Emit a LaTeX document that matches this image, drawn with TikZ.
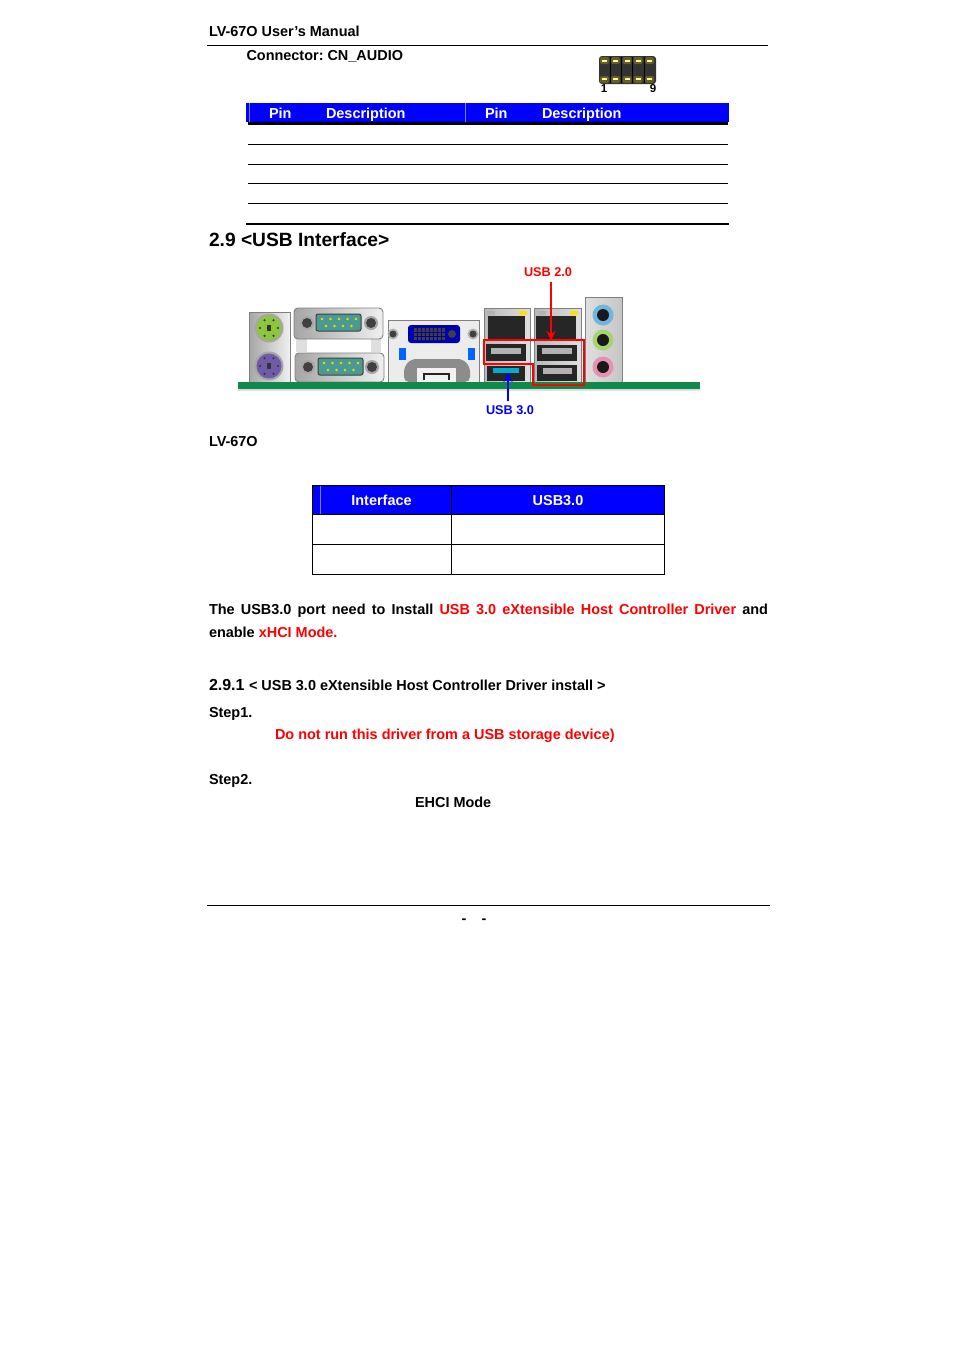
\documentclass[tikz,border=0pt]{standalone}
\usepackage{fontspec}
\setmainfont{Liberation Sans}
\usetikzlibrary{arrows.meta}
\AtBeginDocument{\frenchspacing}
\definecolor{pureblue}{HTML}{0000FF}
\definecolor{purered}{HTML}{FF0000}
\definecolor{lightrule}{HTML}{8080FF}
\definecolor{boardgreen}{HTML}{0F8A4A}
\definecolor{portteal}{HTML}{4A9A90}
\definecolor{kbgreen}{HTML}{8CC63F}
\definecolor{mousepurple}{HTML}{6F5BA8}
\definecolor{jackblue}{HTML}{6FB5DF}
\definecolor{jackgreen}{HTML}{A8D46F}
\definecolor{jackpink}{HTML}{E88FB4}
\begin{document}
\begin{tikzpicture}[x=1pt, y=-1pt,
  every node/.style={font={\fontsize{14.45}{16}\selectfont\bfseries}, inner sep=0, outer sep=0, anchor=base west},
  rule/.style={draw=black, line width=1pt},
  heavyrule/.style={draw=black, line width=2.6pt},
  panel/.style={draw=gray, line width=.9pt, left color=gray!70, right color=gray!12},
  jack/.style={fill=black!85},
  slot/.style={fill=gray!60},
  redword/.style={text=purered},
  whiteword/.style={text=white, anchor=base},
  tinylabel/.style={font={\fontsize{12.7}{14}\selectfont\bfseries}, anchor=center, outer sep=5pt}]
\useasboundingbox (0,0) rectangle (954,1350);
% page head
\node (manual) at (209,36) {LV-67O User's Manual};
\draw[rule] (207,45.5) -- (768,45.5);
\node (connector) at (246.5,60) {Connector: CN\_AUDIO};
% pin header
\fill[black!80, rounded corners=3pt] (599,56) rectangle (656,84);
\foreach \x in {604.5,615.5,627,638,649.5} {
  \fill[olive!60!black, rounded corners=2pt] (\x-4.5,57) rectangle (\x+4.5,64);
  \fill[olive!60!black, rounded corners=2pt] (\x-4.5,76) rectangle (\x+4.5,83);
  \fill[yellow!45!white] (\x-2.5,59.5) rectangle (\x+2.5,61.5);
  \fill[yellow!45!white] (\x-2.5,78) rectangle (\x+2.5,80);
}
\foreach \x in {610,621.5,632.5,644}
  \draw[black, line width=.6pt] (\x,57) -- (\x,83);
\node[font={\fontsize{11.5}{13}\selectfont\bfseries}, anchor=center] (pinone) at (604,89) {1};
\node[font={\fontsize{11.5}{13}\selectfont\bfseries}, anchor=center] (pinnine) at (653,89) {9};
% pin table
\fill[pureblue] (246,103) rectangle (729,122);
\draw[lightrule, line width=.7pt] (249,103) -- (249,122);
\draw[lightrule, line width=.7pt] (465.5,103) -- (465.5,122);
\draw[heavyrule] (248,123.4) -- (728,123.4);
\foreach \y in {144.5,164.5,183.5,203.5}
  \draw[rule] (248,\y) -- (728,\y);
\draw[draw=black, line width=2pt] (246,224) -- (729,224);
\node[text=white] (pinleft) at (269,118) {Pin};
\node[text=white] (descleft) at (326,118) {Description};
\node[text=white] (pinright) at (485,118) {Pin};
\node[text=white] (descright) at (542,118) {Description};
% section
\node[font={\fontsize{19.2}{21}\selectfont\bfseries}] (section) at (209,246) {2.9 <USB Interface>};
% ps/2 panel
\draw[panel] (249,312) rectangle (290,382);
\fill[gray!70] (269,328) circle (14.5);
\fill[kbgreen] (269,328) circle (12.5);
\fill[gray!70] (269,366) circle (14.5);
\fill[mousepurple] (269,366) circle (12.5);
\foreach \y in {328,366} {
  \fill[black!80] (267,\y-3) rectangle (271,\y+3);
  \foreach \a in {0,60,120,180,240,300}
    \fill[black!80] (269,\y) ++(\a:9) circle (1.2);
}
% serial panels
\fill[gray!25] (296,339) rectangle (307,352);
\fill[gray!25] (371,339) rectangle (381,352);
\draw[panel, rounded corners=4pt] (294,308) rectangle (383,339);
\draw[panel, rounded corners=4pt] (295,353) rectangle (384,382);
\foreach \x/\y in {316/314,318/358} {
  \draw[black!75, fill=portteal, line width=1pt, rounded corners=2pt] (\x,\y) rectangle ++(45,17);
  \foreach \i in {0,...,4}
    \fill[yellow!90!black] (\x+6+\i*8.5,\y+5) circle (1.3);
  \foreach \i in {0,...,3}
    \fill[yellow!90!black] (\x+10+\i*8.5,\y+12) circle (1.3);
}
\foreach \x/\y in {307/323,371/323,308/367,372/367} {
  \fill[gray!70] (\x,\y) circle (7);
  \fill[black!75] (\x,\y) circle (5);
}
% dvi panel
\draw[panel, left color=gray!15, right color=gray!15] (388,320) rectangle (479,382);
\fill[gray!60] (393,334) circle (5.5);
\fill[black!75] (393,334) circle (3.5);
\fill[gray!60] (473,334) circle (5.5);
\fill[black!75] (473,334) circle (3.5);
\fill[blue!70!black, rounded corners=3pt] (408,325) rectangle (460,343);
\fill[black!75] (414,328) rectangle (445,340);
\foreach \x in {417,421,...,441}
  \draw[blue!60!black, line width=.6pt] (\x,328) -- (\x,340);
\foreach \y in {332,336}
  \draw[blue!60!black, line width=.6pt] (414,\y) -- (445,\y);
\fill[black!75] (452,334) circle (4);
\fill[blue!60!cyan] (399,348) rectangle (406,360);
\fill[blue!60!cyan] (468,348) rectangle (475,360);
\fill[gray!90, rounded corners=5pt] (404,382) -- (404,367) -- (411,359) -- (463,359) -- (470,367) -- (470,382) -- cycle;
\fill[gray!10] (417,382) -- (417,368) -- (456,368) -- (456,382) -- cycle;
\draw[black!85, line width=1.5pt] (424,380) -- (424,374) -- (449,374) -- (449,380);
% lan and usb stacks
\draw[panel, left color=gray!55, right color=gray!25] (484,308) rectangle (530,382);
\draw[panel, left color=gray!55, right color=gray!25] (534,308) rectangle (581,382);
\fill[yellow!85!orange] (519,311) rectangle (527,315);
\fill[yellow!85!orange] (570,311) rectangle (578,315);
\fill[gray!60] (487,311) rectangle (495,315);
\fill[gray!60] (538,311) rectangle (546,315);
\fill[jack] (488,316) rectangle (525,340);
\fill[jack] (536,316) rectangle (576,340);
\fill[jack] (486,344) rectangle (526,361);
\fill[slot] (491,348) rectangle (521,354);
\fill[jack] (487,366) rectangle (525,381);
\fill[cyan!80!green] (493,368) rectangle (519,373);
\fill[jack] (537,345) rectangle (577,361);
\fill[slot] (542,348) rectangle (572,354);
\fill[jack] (537,365) rectangle (577,381);
\fill[slot] (543,368) rectangle (572,374);
% audio panel
\draw[panel, left color=gray!25, right color=gray!45] (585,297) rectangle (622,382);
\foreach \y/\c in {315/jackblue, 340/jackgreen, 367/jackpink} {
  \fill[\c] (603,\y) circle (10.5);
  \fill[black!90] (603,\y) circle (6);
}
% board
\fill[gray!25] (238,388) rectangle (700,390.5);
\fill[boardgreen] (238,382) rectangle (700,389);
% marks
\draw[draw=purered, line width=2.2pt] (484,340) -- (584,340) -- (584,385) -- (533,385) -- (533,364) -- (484,364) -- cycle;
\coordinate (usbtwotip) at (551,340);
\coordinate (usbthreetip) at (508,373);
\node[tinylabel, text=purered] (usbtwo) at (548,272) {USB 2.0};
\node[tinylabel, text=pureblue] (usbthree) at (510,410) {USB 3.0};
\draw[draw=purered, line width=2pt, -{Stealth[length=9pt, width=9pt]}] (usbtwo.south -| usbtwotip) -- (usbtwotip);
\draw[draw=pureblue, line width=2pt, -{Stealth[length=9pt, width=9pt]}] (usbthree.north -| usbthreetip) -- (usbthreetip);
\node (model) at (209,446) {LV-67O};
% interface table
\fill[pureblue] (312.5,485.5) rectangle (664.5,514.5);
\draw[lightrule, line width=.7pt] (320,486) -- (320,514);
\draw[rule] (312.5,485.5) rectangle (664.5,574.5);
\draw[rule] (312.5,514.5) -- (664.5,514.5);
\draw[rule] (312.5,544.5) -- (664.5,544.5);
\draw[rule] (451.5,485.5) -- (451.5,574.5);
\node[whiteword] (interface) at (381.5,505) {Interface};
\node[whiteword] (usbspeed) at (558,505) {USB3.0};
% body text
\node (lineone) at (209,614) {\makebox[559pt][s]{The USB3.0 port need to Install \textcolor{purered}{USB 3.0 eXtensible Host Controller Driver} and}};
\node (linetwo) at (209,637) {enable \textcolor{purered}{xHCI Mode.}};
\node[font={\fontsize{16}{18}\selectfont\bfseries}] (subsection) at (209,690) {2.9.1};
\node (subtitle) at (249,690) {< USB 3.0 eXtensible Host Controller Driver install >};
\node (stepone) at (209,717.5) {Step1.};
\node[redword] (warning) at (275,739) {Do not run this driver from a USB storage device)};
\node (steptwo) at (209,784) {Step2.};
\node (ehci) at (415,807) {EHCI Mode};
% page foot
\draw[rule] (207,905.5) -- (770,905.5);
\node (dashleft) at (461.5,923) {-};
\node (dashright) at (481.5,923) {-};
\end{tikzpicture}
\end{document}
